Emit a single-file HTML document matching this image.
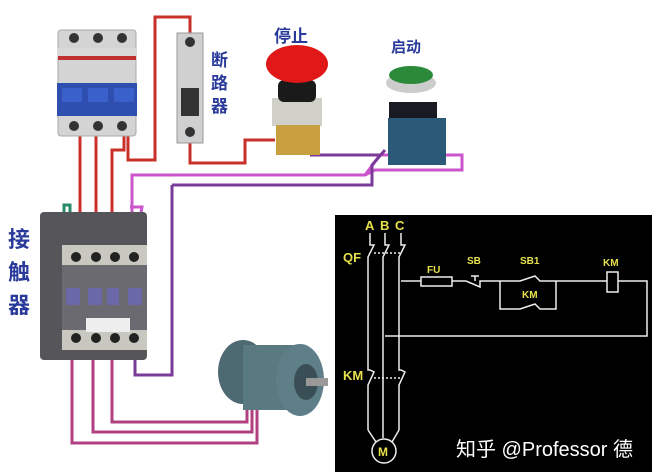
<!DOCTYPE html>
<html><head><meta charset="utf-8"><style>
html,body{margin:0;padding:0;background:#fff;}
svg{display:block;}
text{font-family:"Liberation Sans","Noto Sans CJK SC",sans-serif;}
</style></head><body>
<svg width="652" height="472" viewBox="0 0 652 472" xmlns="http://www.w3.org/2000/svg">
<rect width="652" height="472" fill="#fff"/>
<g fill="none" stroke="#c8302a" stroke-width="3">
<polyline points="80,135 80,250"/>
<polyline points="96,135 96,250"/>
<polyline points="124,135 124,150 112,150 112,250"/>
<polyline points="128,135 128,160 155,160 155,17 190,17 190,33"/>
<polyline points="190,142 190,163 245,163 245,140 275,140"/>
</g>
<g fill="none" stroke="#cc55cc" stroke-width="3">
<polyline points="132,250 132,175 365,175 380,155 445,155 462,155 462,170 375,170 365,175"/>
<polyline points="130,207 142,207 136,240"/>
</g>
<g fill="none" stroke="#7a3a9a" stroke-width="3">
<polyline points="310,155 380,155"/>
<polyline points="172,185 372,185 372,165 385,150"/>
<polyline points="172,185 172,375 135,375 135,345"/>
</g>
<g fill="none" stroke="#b04080" stroke-width="3">
<polyline points="72,345 72,443 257,443 257,405"/>
<polyline points="93,345 93,432 252,432 252,405"/>
<polyline points="112,345 112,422 247,422 247,405"/>
</g>
<polyline points="64,240 64,205 70,205 70,240" fill="none" stroke="#2a8a6a" stroke-width="3"/>
<rect x="58" y="30" width="78" height="106" rx="3" fill="#d4d4d4" stroke="#aaa"/>
<rect x="57" y="48" width="80" height="12" fill="#d9d9d9"/>
<rect x="58" y="56" width="78" height="4" fill="#c03030"/>
<rect x="57" y="83" width="80" height="33" fill="#2f4fb0"/>
<rect x="62" y="88" width="20" height="14" fill="#3a60cc"/><rect x="88" y="88" width="20" height="14" fill="#3a60cc"/><rect x="114" y="88" width="20" height="14" fill="#3a60cc"/>
<g fill="#333"><circle cx="74" cy="38" r="5"/><circle cx="98" cy="38" r="5"/><circle cx="122" cy="38" r="5"/><circle cx="74" cy="126" r="5"/><circle cx="98" cy="126" r="5"/><circle cx="122" cy="126" r="5"/></g>
<rect x="177" y="33" width="26" height="110" fill="#d0d0d0" stroke="#999"/>
<rect x="181" y="88" width="18" height="28" fill="#333"/>
<circle cx="190" cy="42" r="5" fill="#333"/><circle cx="190" cy="132" r="5" fill="#333"/>
<text x="211" y="66" font-size="17" fill="#2a3a9a" font-weight="bold">断</text>
<text x="211" y="89" font-size="17" fill="#2a3a9a" font-weight="bold">路</text>
<text x="211" y="112" font-size="17" fill="#2a3a9a" font-weight="bold">器</text>
<text x="274" y="42" font-size="17" fill="#2a3a9a" font-weight="bold">停止</text>
<rect x="272" y="98" width="50" height="28" fill="#d0d0c8"/>
<rect x="276" y="125" width="44" height="30" fill="#c9a040"/>
<rect x="278" y="80" width="38" height="22" rx="6" fill="#1a1a1a"/>
<ellipse cx="297" cy="64" rx="31" ry="19" fill="#e01818"/>
<text x="391" y="52" font-size="15" fill="#2a3a9a" font-weight="bold">启动</text>
<rect x="389" y="102" width="48" height="22" fill="#1a1a22"/>
<rect x="388" y="118" width="58" height="47" fill="#2a5a78"/>
<ellipse cx="411" cy="83" rx="25" ry="10" fill="#ccc"/>
<ellipse cx="411" cy="75" rx="22" ry="9" fill="#2a8a3a"/>
<text x="8" y="247" font-size="22" fill="#2a3a9a" font-weight="bold">接</text>
<text x="8" y="280" font-size="22" fill="#2a3a9a" font-weight="bold">触</text>
<text x="8" y="313" font-size="22" fill="#2a3a9a" font-weight="bold">器</text>
<rect x="40" y="212" width="107" height="148" rx="4" fill="#55555a"/>
<rect x="62" y="245" width="85" height="105" fill="#6a6a70"/>
<rect x="62" y="245" width="85" height="20" fill="#c8c8c0"/>
<rect x="62" y="330" width="85" height="20" fill="#c8c8c0"/>
<rect x="86" y="318" width="44" height="14" fill="#eee"/>
<g fill="#6a68a8"><rect x="66" y="288" width="14" height="17"/><rect x="88" y="288" width="14" height="17"/><rect x="107" y="288" width="12" height="17"/><rect x="128" y="288" width="14" height="17"/></g>
<g fill="#222"><circle cx="76" cy="257" r="5"/><circle cx="96" cy="257" r="5"/><circle cx="115" cy="257" r="5"/><circle cx="134" cy="257" r="5"/><circle cx="76" cy="338" r="5"/><circle cx="96" cy="338" r="5"/><circle cx="115" cy="338" r="5"/><circle cx="134" cy="338" r="5"/></g>
<ellipse cx="243" cy="372" rx="25" ry="32" fill="#4d6a72"/>
<rect x="243" y="345" width="55" height="65" fill="#5a7a82"/>
<ellipse cx="300" cy="380" rx="24" ry="36" fill="#5f7f88"/>
<ellipse cx="306" cy="382" rx="12" ry="18" fill="#3a4e55"/>
<rect x="306" y="378" width="22" height="8" fill="#999"/>
<rect x="335" y="215" width="317" height="257" fill="#000"/>
<g font-size="13" fill="#e6e04a" font-weight="bold">
<text x="365" y="230">A</text><text x="380" y="230">B</text><text x="395" y="230">C</text>
<text x="343" y="262">QF</text><text x="343" y="380">KM</text>
</g>
<g font-size="10" fill="#e6e04a" font-weight="bold">
<text x="427" y="273">FU</text><text x="467" y="264">SB</text><text x="520" y="264">SB1</text>
<text x="522" y="298">KM</text><text x="603" y="266">KM</text>
</g>
<g fill="none" stroke="#eee" stroke-width="1.5">
<polyline points="370,233 370,245 374,245 368,257 368,370 370,370 374,372 368,385 368,430"/>
<polyline points="385,233 385,245 389,245 383,257 383,438"/>
<polyline points="401,233 401,245 405,245 399,257 399,370 401,370 405,372 399,385 399,430"/>
<polyline points="401,281 421,281"/><rect x="421" y="277" width="31" height="9"/>
<polyline points="452,281 466,281 480,287 480,281 500,281"/>
<polyline points="475,276 475,281"/><line x1="471" y1="276" x2="479" y2="276"/>
<polyline points="500,281 520,281 535,276 540,281 556,281"/>
<polyline points="500,281 500,309 520,309 535,304 540,309 556,309 556,281"/>
<polyline points="556,281 607,281"/><rect x="607" y="272" width="11" height="20"/>
<polyline points="618,281 647,281 647,336 385,336"/>
<line x1="374" y1="253" x2="402" y2="253" stroke-dasharray="2,2"/>
<line x1="374" y1="378" x2="402" y2="378" stroke-dasharray="2,2"/>
<polyline points="368,430 376,442"/><polyline points="399,430 392,442"/>
<circle cx="384" cy="451" r="12"/>
</g>
<text x="378" y="456" font-size="12" fill="#e6e04a" font-weight="bold">M</text>
<text x="456" y="456" font-size="20" fill="#fff">知乎 @Professor 德</text>
</svg>
</body></html>
